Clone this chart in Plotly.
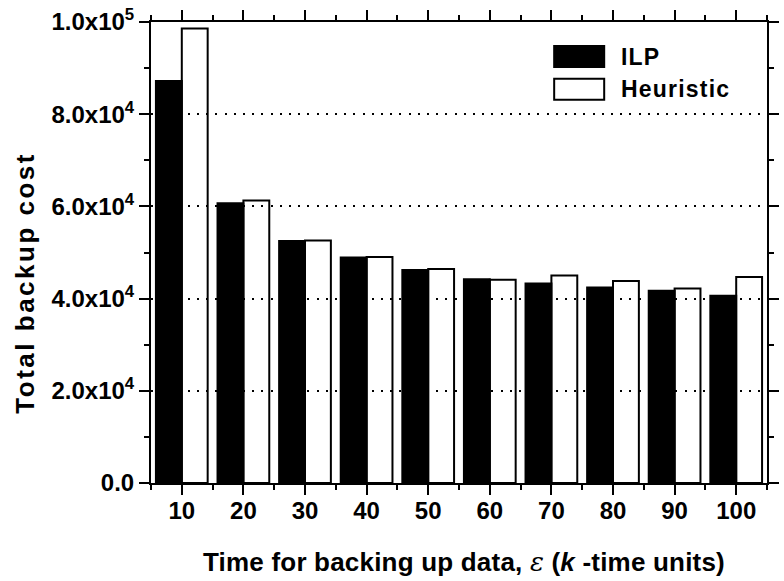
import plotly.graph_objects as go

# Backup window (k-time units) and total backup cost per method
backup_time = [10, 20, 30, 40, 50, 60, 70, 80, 90, 100]
ilp_cost = [87200, 60700, 52500, 48900, 46200, 44200, 43300, 42400, 41700, 40600]
heuristic_cost = [98600, 61300, 52600, 49000, 46400, 44100, 45000, 43800, 42200, 44700]

x_tick_text = ["10", "20", "30", "40", "50", "60", "70", "80", "90", "100"]
y_tick_vals = [0, 20000, 40000, 60000, 80000, 100000]
y_tick_text = ["0.0", "2.0x10<sup>4</sup>", "4.0x10<sup>4</sup>", "6.0x10<sup>4</sup>",
               "8.0x10<sup>4</sup>", "1.0x10<sup>5</sup>"]
y_minor_vals = [10000, 30000, 50000, 70000, 90000]

FONT = "Liberation Sans, Arial, sans-serif"


def bold(s):
    return "<b>%s</b>" % s


fig = go.Figure()
fig.add_trace(go.Bar(
    x=backup_time, y=ilp_cost, name="ILP",
    marker=dict(color="black", line=dict(color="black", width=2)),
    showlegend=False,
))
# Heuristic bars are hollow outlines, so the dotted guides show through them
fig.add_trace(go.Bar(
    x=backup_time, y=heuristic_cost, name="Heuristic",
    marker=dict(color="rgba(0,0,0,0)", line=dict(color="black", width=2)),
    showlegend=False,
))

axis_common = dict(
    showline=True, linecolor="black", linewidth=2, mirror="ticks",
    ticks="outside", tickcolor="black", tickwidth=2,
    tickfont=dict(family=FONT, size=24, color="black"),
    zeroline=False,
)

fig.update_xaxes(
    **axis_common,
    range=[5, 105], tickmode="array", tickvals=backup_time,
    ticktext=[bold(t) for t in x_tick_text], ticklen=10,
    ticklabelstandoff=-5, showgrid=False,
    minor=dict(ticks="outside", ticklen=5, tickwidth=2, tickcolor="black",
               tick0=5, dtick=10, showgrid=False),
)
fig.update_yaxes(
    **axis_common,
    range=[0, 100000], tickmode="array", tickvals=y_tick_vals,
    ticktext=[bold(t) for t in y_tick_text], ticklen=10,
    showgrid=True, gridcolor="black", gridwidth=2, griddash="2px,7.2px",
    minor=dict(ticks="outside", ticklen=5, tickwidth=2, tickcolor="black",
               tickmode="array", tickvals=y_minor_vals, showgrid=False),
)

# Legend drawn as swatches with labels inside the plot area
legend_items = [("ILP", "black", 0.925), ("Heuristic", "white", 0.854)]
for label, fill, yc in legend_items:
    fig.add_shape(type="rect", xref="paper", yref="paper",
                  x0=0.6545, x1=0.7357, y0=yc - 0.0228, y1=yc + 0.0228,
                  fillcolor=fill, line=dict(color="black", width=2))
    fig.add_annotation(text="<span style=\"letter-spacing:1.2px\"><b>%s</b></span>" % label,
                       xref="paper", yref="paper",
                       x=0.760, y=yc, xanchor="left", yanchor="middle",
                       showarrow=False, font=dict(family=FONT, size=23, color="black"))

fig.add_annotation(
    text="<span style=\"letter-spacing:0.2px\"><b>Time for backing up data, </b>"
         "<span style=\"font-family:'DejaVu Serif'\"><i>ε</i></span>"
         "<b> (<i>k</i> -time units)</b></span>",
    xref="paper", yref="paper", x=0.508, y=-0.171, xanchor="center", yanchor="middle",
    showarrow=False, font=dict(family=FONT, size=26, color="black"),
)
fig.add_annotation(
    text="<span style=\"letter-spacing:2.5px\"><b>Total backup cost</b></span>",
    textangle=-90,
    xref="paper", yref="paper", x=-0.205, y=0.434, xanchor="center", yanchor="middle",
    showarrow=False, font=dict(family=FONT, size=26, color="black"),
)

fig.update_layout(
    width=784, height=581,
    margin=dict(l=151, r=5, t=22, b=98),
    barmode="group", bargap=0.16, bargroupgap=0,
    plot_bgcolor="white", paper_bgcolor="white",
    font=dict(family=FONT, color="black"),
)

fig.write_html("out.html")
